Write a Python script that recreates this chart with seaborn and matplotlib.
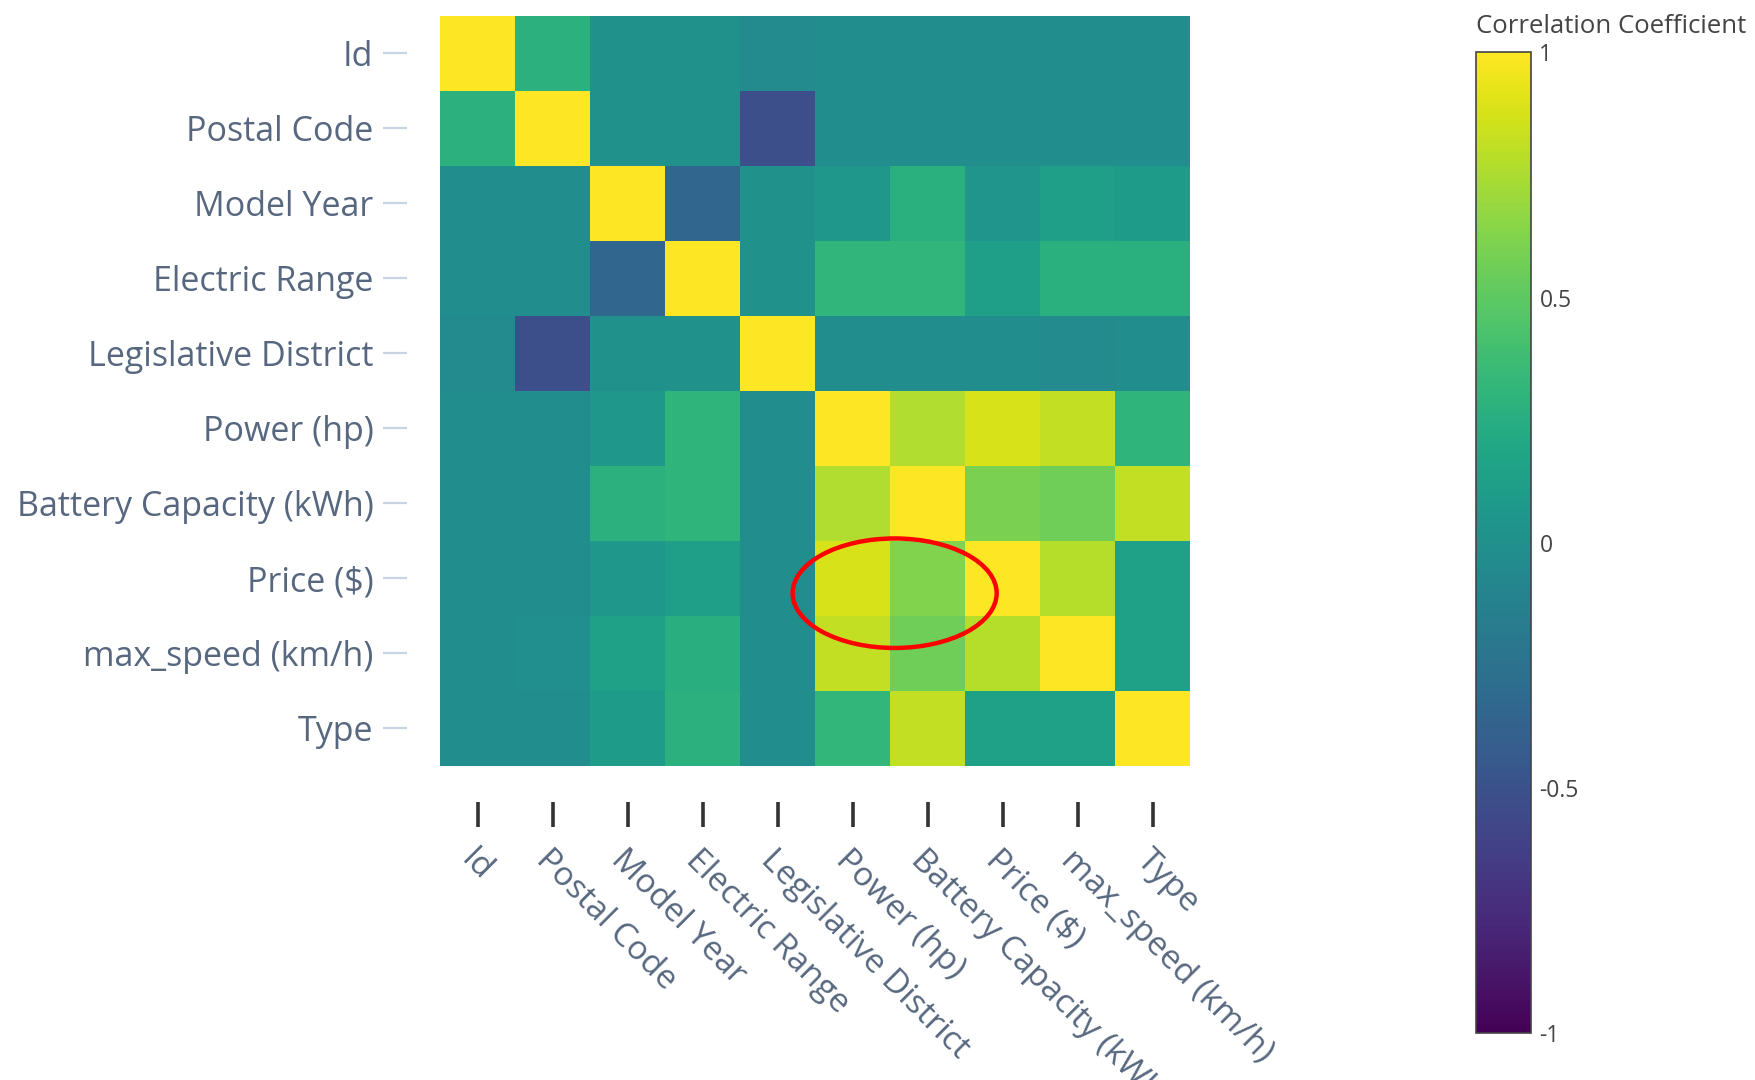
import numpy as np
import pandas as pd
import matplotlib
matplotlib.use('Agg')
import matplotlib.pyplot as plt
from matplotlib.patches import Ellipse
import seaborn as sns

# Variaveis e matriz de correlacao
labels = ['Id', 'Postal Code', 'Model Year', 'Electric Range', 'Legislative District',
          'Power (hp)', 'Battery Capacity (kWh)', 'Price ($)', 'max_speed (km/h)', 'Type']

row_id = [1.00, 0.28, 0.00, 0.00, -0.05, -0.02, -0.02, -0.02, -0.02, -0.02]
row_postal = [0.28, 1.00, 0.00, 0.00, -0.52, -0.02, -0.02, -0.03, -0.02, -0.02]
row_year = [-0.02, -0.02, 1.00, -0.34, 0.00, 0.06, 0.27, 0.04, 0.12, 0.10]
row_range = [-0.02, -0.02, -0.34, 1.00, 0.00, 0.31, 0.31, 0.12, 0.27, 0.27]
row_district = [-0.05, -0.52, 0.00, 0.00, 1.00, -0.02, -0.02, -0.03, -0.05, -0.03]
row_power = [-0.02, -0.02, 0.06, 0.30, -0.02, 1.00, 0.76, 0.88, 0.82, 0.30]
row_battery = [-0.02, -0.02, 0.28, 0.30, -0.02, 0.76, 1.00, 0.60, 0.56, 0.82]
row_price = [-0.02, -0.03, 0.06, 0.12, -0.02, 0.88, 0.62, 1.00, 0.78, 0.14]
row_speed = [-0.02, -0.01, 0.14, 0.26, -0.02, 0.82, 0.56, 0.78, 1.00, 0.14]
row_type = [-0.02, -0.02, 0.10, 0.28, -0.02, 0.32, 0.82, 0.14, 0.14, 1.00]

corr = pd.DataFrame([row_id, row_postal, row_year, row_range, row_district,
                     row_power, row_battery, row_price, row_speed, row_type],
                    index=labels, columns=labels)

cbar_ticks = [1, 0.5, 0, -0.5, -1]
cbar_ticklabels = ['1', '0.5', '0', '-0.5', '-1']

sns.set_style('white')
plt.rcParams['font.family'] = ['Open Sans', 'DejaVu Sans']

fig = plt.figure(figsize=(17.56, 10.80), dpi=100)
ax = fig.add_axes([0.2506, 0.291, 0.4272, 0.6945])
cax = fig.add_axes([0.8406, 0.0435, 0.0313, 0.908])

sns.heatmap(corr, cmap='viridis', vmin=-1, vmax=1, ax=ax, cbar_ax=cax,
            square=False, linewidths=0)

# Eixos
label_color = '#56677f'
ax.set_xlabel('')
ax.set_ylabel('')
for s in ax.spines.values():
    s.set_visible(False)
# outward em pontos (dpi 100)
ax.spines['bottom'].set_position(('outward', 26))
ax.spines['left'].set_position(('outward', 24))

ax.tick_params(axis='x', bottom=True, length=18, width=2.6, color='#333333',
               pad=12, labelsize=24, labelcolor=label_color)
ax.tick_params(axis='y', left=True, length=17, width=1.6, color='#c8d4e3',
               pad=7, labelsize=24.5, labelcolor=label_color)
ax.set_xticklabels(labels, rotation=-45, ha='left', va='top', rotation_mode='anchor')
ax.set_yticklabels(labels, rotation=0)

# Destaque
ax.add_patch(Ellipse((6.06, 7.70), 2.72, 1.46, fill=False, edgecolor='red',
                     linewidth=3.2, clip_on=False))

# Barra de cores
cbar = ax.collections[0].colorbar
cbar.set_ticks(cbar_ticks)
cbar.set_ticklabels(cbar_ticklabels)
cbar.outline.set_edgecolor('#444444')
cbar.outline.set_linewidth(1.2)
cax.tick_params(length=0, pad=6, labelsize=16.5, labelcolor='#444444')
cax.text(0, 1.014, 'Correlation Coefficient', transform=cax.transAxes,
         ha='left', va='bottom', fontsize=18.5, color='#444444')

plt.savefig('out.png', dpi=100)
plt.close()
